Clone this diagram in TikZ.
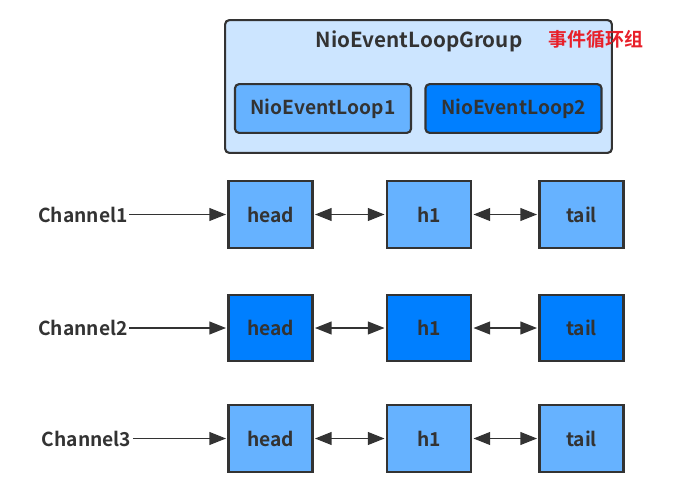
\documentclass[tikz,border=0pt]{standalone}
\usepackage{fontspec}
\setmainfont{Noto Sans CJK SC}[BoldFont={* Bold}]
\usetikzlibrary{arrows.meta}
\definecolor{lightb}{HTML}{66B2FF}
\definecolor{darkb}{HTML}{007FFF}
\definecolor{groupb}{HTML}{CCE5FF}
\definecolor{edge}{HTML}{333333}
\definecolor{redt}{HTML}{E8202A}
\begin{document}
\begin{tikzpicture}[x=0.75pt,y=-0.75pt,
  txt/.style={font=\bfseries\fontsize{14.4}{16}\selectfont, text=edge},
  cell/.style={draw=edge, line width=1.6pt, minimum width=63pt, minimum height=50pt, inner sep=0pt, txt},
  lcell/.style={cell, fill=lightb},
  dcell/.style={cell, fill=darkb},
  loopbox/.style={draw=edge, line width=1.6pt, rounded corners=3pt, minimum width=132pt, minimum height=36.5pt, inner sep=0pt, txt},
  link/.style={draw=edge, line width=1.4pt, {Triangle[length=12.5pt,width=9.5pt]}-{Triangle[length=12.5pt,width=9.5pt]}, shorten <=1pt, shorten >=1pt},
  feed/.style={draw=edge, line width=1.4pt, -{Triangle[length=12.5pt,width=9.5pt]}, shorten >=1pt}
]
\useasboundingbox (0,0) rectangle (676,490);
% group
\node[draw=edge, line width=1.6pt, rounded corners=3pt, fill=groupb, minimum width=290pt, minimum height=99.5pt, inner sep=0pt] (grp) at (418.5,86.5) {};
\node[txt, font=\bfseries\fontsize{15.5}{18}\selectfont] (gt) at (419,41) {NioEventLoopGroup};
\node[font=\bfseries\fontsize{14.2}{16}\selectfont, text=redt, anchor=west, inner sep=0pt] (cn) at (548,39) {事件循环组};
\node[loopbox, fill=lightb] (l1) at (323,108.5) {NioEventLoop1};
\node[loopbox, fill=darkb] (l2) at (513.5,108.5) {NioEventLoop2};
% rows
\foreach \r/\y/\st/\ch/\cx in {1/214.5/lcell/Channel1/83, 2/328/dcell/Channel2/83, 3/438.5/lcell/Channel3/86.5}{
  \node[\st] (head\r) at (270.5,\y) {head};
  \node[\st] (hone\r) at (429,\y) {h1};
  \node[\st] (tail\r) at (581.5,\y) {tail};
  \node[txt, inner sep=1pt] (ch\r) at (\cx,\y) {\ch};
  \draw[feed] (ch\r.east) -- (head\r.west);
  \draw[link] (head\r.east) -- (hone\r.west);
  \draw[link] (hone\r.east) -- (tail\r.west);
}
\end{tikzpicture}
\end{document}
